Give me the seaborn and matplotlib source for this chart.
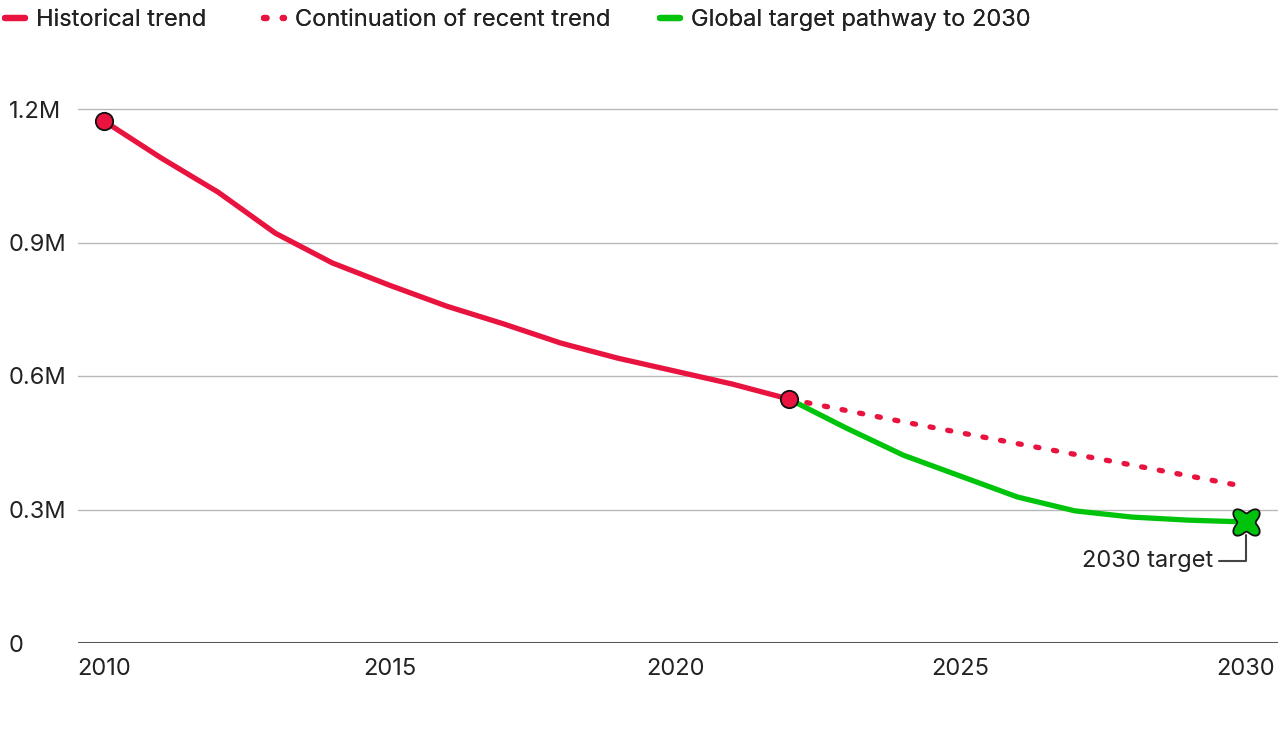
import matplotlib
matplotlib.use("Agg")
import matplotlib.pyplot as plt
from matplotlib.lines import Line2D
from matplotlib.path import Path
import numpy as np
import seaborn as sns
import pandas as pd

# ---- data ----
hist_years = [2010, 2011, 2012, 2013, 2014, 2015, 2016, 2017, 2018, 2019, 2020, 2021, 2022]
hist_values = [1.173, 1.090, 1.013, 0.921, 0.854, 0.804, 0.757, 0.717, 0.674, 0.640, 0.611, 0.582, 0.548]
cont_years = [2022, 2024, 2026, 2028, 2030]
cont_values = [0.548, 0.497, 0.448, 0.400, 0.351]
target_years = [2022, 2023, 2024, 2025, 2026, 2027, 2028, 2029, 2030]
target_values = [0.548, 0.483, 0.422, 0.375, 0.328, 0.297, 0.283, 0.276, 0.272]
y_ticks = [0, 0.3, 0.6, 0.9, 1.2]
y_tick_labels = ["0", "0.3M", "0.6M", "0.9M", "1.2M"]
x_ticks = [2010, 2015, 2020, 2025, 2030]
legend_labels = ["Historical trend", "Continuation of recent trend", "Global target pathway to 2030"]
annotation_text = "2030 target"

RED = "#e8143f"
GREEN = "#00c40c"
TXT = "#222222"
FS = 17

sns.set_theme(style="white")
plt.rcParams["font.family"] = ["Inter", "DejaVu Sans"]

df_hist = pd.DataFrame({"year": hist_years, "value": hist_values})
df_cont = pd.DataFrame({"year": cont_years, "value": cont_values})
df_tgt = pd.DataFrame({"year": target_years, "value": target_values})

W, H = 1283, 746
fig = plt.figure(figsize=(W / 100, H / 100), dpi=100)
ax = fig.add_axes([78 / W, (746 - 643) / H, 1200 / W, (643 - 90) / H])

ax.set_xlim(2010 - 26 / 57.1, 2030 + 32 / 57.1)
ax.set_ylim(0, 1.2 + 19 / 445)

# gridlines
for yt in y_ticks[1:]:
    ax.axhline(yt, color="#b8b8b8", lw=1.0, zorder=0)
ax.axhline(0, color="#555555", lw=2.2, zorder=1)

LW = 3.8
sns.lineplot(data=df_cont, x="year", y="value", ax=ax, color=RED, lw=LW,
             linestyle=(0, (0.6, 2.8)), dash_capstyle="round", zorder=3)
sns.lineplot(data=df_tgt, x="year", y="value", ax=ax, color=GREEN, lw=LW,
             solid_capstyle="round", solid_joinstyle="round", zorder=4)
sns.lineplot(data=df_hist, x="year", y="value", ax=ax, color=RED, lw=LW,
             solid_capstyle="round", solid_joinstyle="round", zorder=5)

# markers
ax.plot([hist_years[0], hist_years[-1]], [hist_values[0], hist_values[-1]], "o",
        ms=12.5, mfc=RED, mec="#111111", mew=1.3, zorder=6, clip_on=False)

# four-lobed rounded cross marker shape
th = np.linspace(0, 2 * np.pi, 100)
rr = 1.0 + 0.3 * np.cos(4 * (th - np.pi / 4))
clover = Path(np.column_stack([rr * np.cos(th), rr * np.sin(th)]), closed=True)
ax.plot([target_years[-1]], [target_values[-1]], marker=clover, ms=19, mfc=GREEN,
        mec="#111111", mew=1.3, zorder=7, clip_on=False, ls="none")

# annotation
ax.annotate(annotation_text, xy=(2030, target_values[-1] - 0.03),
            xytext=(2030 - 0.58, target_values[-1] - 0.087),
            ha="right", va="center", fontsize=FS, color=TXT,
            arrowprops=dict(arrowstyle="-", color="#444444", lw=1.5,
                            connectionstyle="angle,angleA=0,angleB=90,rad=0",
                            shrinkA=2, shrinkB=0))

ax.set_xticks(x_ticks)
ax.set_xticklabels([str(x) for x in x_ticks])
ax.set_yticks(y_ticks)
ax.set_yticklabels(y_tick_labels)
ax.tick_params(axis="x", length=0, pad=11, labelsize=FS, labelcolor=TXT)
ax.tick_params(axis="y", length=0, pad=50, labelsize=FS, labelcolor=TXT)
for lab in ax.get_yticklabels():
    lab.set_horizontalalignment("left")
ax.set_xlabel("")
ax.set_ylabel("")
for s in ax.spines.values():
    s.set_visible(False)

handles = [
    Line2D([0], [0], color=RED, lw=4.5, solid_capstyle="round"),
    Line2D([0], [0], color=RED, lw=4.5, linestyle=(0, (0.4, 2.6)), dash_capstyle="round"),
    Line2D([0], [0], color=GREEN, lw=4.5, solid_capstyle="round"),
]
legend_x = [5, 264, 660]
for h, lab, lx in zip(handles, legend_labels, legend_x):
    leg = fig.legend([h], [lab], loc="upper left", bbox_to_anchor=(lx / W, 1 - 9 / H),
                     frameon=False, fontsize=FS, handlelength=0.85, handletextpad=0.45,
                     borderpad=0, borderaxespad=0, labelcolor=TXT)
    fig.add_artist(leg)

fig.savefig("out.png", dpi=100)
